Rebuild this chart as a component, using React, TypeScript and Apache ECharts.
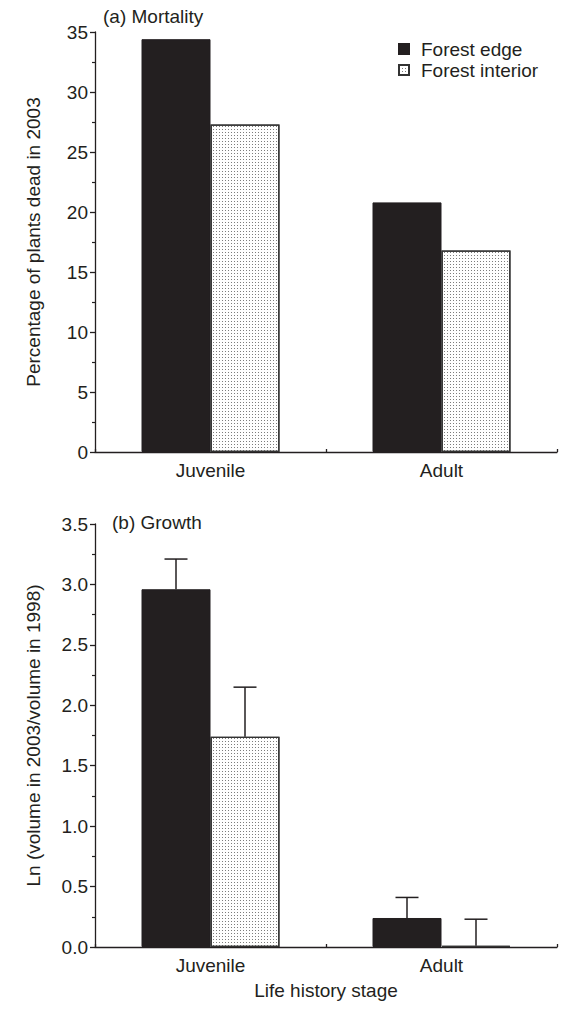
import React, { useEffect, useRef } from "react";
import * as echarts from "echarts";

const categories = ["Juvenile", "Adult"];
const seriesNames = ["Forest edge", "Forest interior"];
const mortalityEdge = [34.4, 20.8];
const mortalityInterior = [27.3, 16.8];
const growthEdge = [2.96, 0.24];
const growthEdgeSE = [0.25, 0.17];
const growthInterior = [1.74, 0.01];
const growthInteriorSE = [0.41, 0.22];
const mortalityTicks = { min: 0, max: 35, interval: 5 };
const growthTicks = { min: 0, max: 3.5, interval: 0.5 };

const INK = "#231f20";
const FONT = "'Liberation Sans', Arial, Helvetica, sans-serif";
const BAR_W = 69;
const FS = 19;

export default function App() {
  const ref = useRef<HTMLDivElement>(null);
  useEffect(() => {
    if (!ref.current) return;
    const chart = echarts.init(ref.current, undefined, { renderer: "svg" });
    const decal = {
      symbol: "rect",
      symbolSize: 1,
      color: "rgba(70,70,70,0.7)",
      dashArrayX: [1, 2],
      dashArrayY: [1, 2],
      rotation: 0,
    };
    const edgeStyle = { color: INK, borderColor: INK, borderWidth: 1 };
    const interiorStyle = { color: "#ffffff", borderColor: "#333333", borderWidth: 1.3, decal };
    const axisLine = { show: true, lineStyle: { color: INK, width: 1.3 } };
    const labelStyle = { color: INK, fontSize: FS, fontFamily: FONT };
    const yBase = (idx: number, t: any, name: string, fmt: (v: number) => string) => ({
      type: "value",
      gridIndex: idx,
      min: t.min,
      max: t.max,
      interval: t.interval,
      name,
      nameLocation: "middle",
      nameGap: 52,
      nameTextStyle: { ...labelStyle },
      axisLine,
      axisTick: { show: true, inside: false, length: 5, lineStyle: { color: INK, width: 1.3 } },
      minorTick: { show: true, splitNumber: 2, length: 3, lineStyle: { color: INK, width: 1.2 } },
      axisLabel: { ...labelStyle, margin: 7, formatter: fmt },
      splitLine: { show: false },
    });
    const xBase = (idx: number, name?: string) => ({
      type: "category",
      gridIndex: idx,
      data: categories,
      name: name || "",
      nameLocation: "middle",
      nameGap: 34,
      nameTextStyle: { ...labelStyle },
      axisLine,
      axisTick: { show: true, inside: true, length: 3, lineStyle: { color: INK, width: 1.3 } },
      axisLabel: { ...labelStyle, margin: 9 },
    });
    const errData = (means: number[], se: number[], side: number) =>
      means.map((m, i) => [i, m, m + se[i], side]);
    const renderErr = (params: any, api: any) => {
      const cat = api.value(0);
      const mean = api.value(1);
      const top = api.value(2);
      const side = api.value(3);
      const b = api.coord([cat, mean]);
      const t = api.coord([cat, top]);
      const x = b[0] + (side * BAR_W) / 2;
      const style = { stroke: INK, lineWidth: 1.5 };
      return {
        type: "group",
        children: [
          { type: "line", shape: { x1: x, y1: b[1], x2: x, y2: t[1] }, style },
          { type: "line", shape: { x1: x - 11.5, y1: t[1], x2: x + 11.5, y2: t[1] }, style },
        ],
      };
    };
    chart.setOption({
      animation: false,
      backgroundColor: "#ffffff",
      textStyle: { fontFamily: FONT, color: INK },
      title: [
        { text: "(a) Mortality", left: 103, top: 7, padding: 0, textStyle: { ...labelStyle, fontWeight: "normal" } },
        { text: "(b) Growth", left: 112, top: 513, padding: 0, textStyle: { ...labelStyle, fontWeight: "normal" } },
      ],
      legend: {
        orient: "vertical",
        left: 398,
        top: 39,
        padding: 0,
        icon: "rect",
        itemWidth: 10,
        itemHeight: 10,
        itemGap: 1,
        data: seriesNames,
        textStyle: { ...labelStyle, lineHeight: 20, padding: [0, 0, 0, 7] },
      },
      grid: [
        { left: 95, top: 32, width: 462, height: 420 },
        { left: 95, top: 524, width: 462, height: 423 },
      ],
      xAxis: [xBase(0), xBase(1, "Life history stage")],
      yAxis: [
        yBase(0, mortalityTicks, "Percentage of plants dead in 2003", (v) => String(v)),
        yBase(1, growthTicks, "Ln (volume in 2003/volume in 1998)", (v) => v.toFixed(1)),
      ],
      series: [
        { name: seriesNames[0], type: "bar", xAxisIndex: 0, yAxisIndex: 0, data: mortalityEdge, barWidth: BAR_W, barGap: "0%", itemStyle: edgeStyle },
        { name: seriesNames[1], type: "bar", xAxisIndex: 0, yAxisIndex: 0, data: mortalityInterior, barWidth: BAR_W, barGap: "0%", itemStyle: interiorStyle },
        { name: seriesNames[0], type: "bar", xAxisIndex: 1, yAxisIndex: 1, data: growthEdge, barWidth: BAR_W, barGap: "0%", itemStyle: edgeStyle },
        { name: seriesNames[1], type: "bar", xAxisIndex: 1, yAxisIndex: 1, data: growthInterior, barWidth: BAR_W, barGap: "0%", itemStyle: interiorStyle },
        { type: "custom", xAxisIndex: 1, yAxisIndex: 1, z: 5, renderItem: renderErr, data: errData(growthEdge, growthEdgeSE, -1) },
        { type: "custom", xAxisIndex: 1, yAxisIndex: 1, z: 5, renderItem: renderErr, data: errData(growthInterior, growthInteriorSE, 1) },
      ],
    });
    return () => chart.dispose();
  }, []);
  return (
    <div
      ref={ref}
      style={{ position: "fixed", left: 0, top: 0, width: 562, height: 1009, background: "#fff" }}
    />
  );
}
